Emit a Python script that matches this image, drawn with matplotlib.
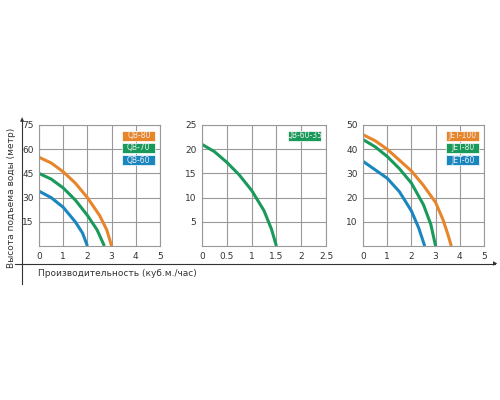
import matplotlib.pyplot as plt
from matplotlib.patches import Rectangle

# ---- data ----
qb80_x = [0, 0.5, 1, 1.5, 2, 2.5, 2.8, 3]
qb80_y = [55, 51.5, 46, 39, 30, 19, 10, 0]
qb70_x = [0, 0.5, 1, 1.5, 2, 2.4, 2.7]
qb70_y = [45, 41.5, 36, 28.5, 19, 10, 0]
qb60_x = [0, 0.5, 1, 1.5, 1.8, 2]
qb60_y = [34, 30, 24, 15, 8, 0]

qb6035_x = [0, 0.25, 0.5, 0.75, 1, 1.25, 1.4, 1.5]
qb6035_y = [21, 19.5, 17.3, 14.7, 11.5, 7.3, 3.5, 0]

jet100_x = [0, 0.5, 1, 1.5, 2, 2.5, 3, 3.3, 3.5, 3.65]
jet100_y = [46, 43.5, 40, 35.5, 31, 25, 18, 11, 5, 0]
jet80_x = [0, 0.5, 1, 1.5, 2, 2.5, 2.8, 3]
jet80_y = [44, 41, 37, 32, 26, 17, 9, 0]
jet60_x = [0, 0.5, 1, 1.5, 2, 2.3, 2.55]
jet60_y = [35, 31.5, 28, 22.5, 14.5, 7.5, 0]

ORANGE = '#e8852a'
GREEN = '#1a9a5a'
BLUE = '#1a86c0'

fig = plt.figure(figsize=(5, 4), dpi=100)
fig.patch.set_facecolor('white')

panels = [
    dict(pos=[0.078, 0.385, 0.242, 0.3025], xt=[0, 1, 2, 3, 4, 5], xl=['0', '1', '2', '3', '4', '5'],
         yt=[15, 30, 45, 60, 75], ymax=75,
         series=[('QB-80', qb80_x, qb80_y, ORANGE), ('QB-70', qb70_x, qb70_y, GREEN),
                 ('QB-60', qb60_x, qb60_y, BLUE)]),
    dict(pos=[0.404, 0.385, 0.248, 0.3025], xt=[0, 0.5, 1, 1.5, 2, 2.5], xl=['0', '0.5', '1', '1.5', '2', '2.5'],
         yt=[5, 10, 15, 20, 25], ymax=25,
         series=[('QB-60-35', qb6035_x, qb6035_y, GREEN)]),
    dict(pos=[0.726, 0.385, 0.242, 0.3025], xt=[0, 1, 2, 3, 4, 5], xl=['0', '1', '2', '3', '4', '5'],
         yt=[10, 20, 30, 40, 50], ymax=50,
         series=[('JET-100', jet100_x, jet100_y, ORANGE), ('JET-80', jet80_x, jet80_y, GREEN),
                 ('JET-60', jet60_x, jet60_y, BLUE)]),
]

for p in panels:
    ax = fig.add_axes(p['pos'])
    for name, x, y, c in p['series']:
        ax.plot(x, y, color=c, linewidth=2.2, solid_capstyle='butt')
    ax.set_xlim(p['xt'][0], p['xt'][-1])
    ax.set_ylim(0, p['ymax'])
    ax.set_xticks(p['xt'])
    ax.set_xticklabels(p['xl'])
    ax.set_yticks(p['yt'])
    ax.grid(True, color='#999999', linewidth=0.8)
    for s in ax.spines.values():
        s.set_color('#999999')
        s.set_linewidth(0.8)
    ax.tick_params(length=0, labelsize=6.5, colors='#333333', pad=4)
    for i, (name, x, y, c) in enumerate(p['series']):
        yc = 0.91 - i * 0.1
        ax.add_patch(Rectangle((0.69, yc - 0.04), 0.27, 0.08, transform=ax.transAxes,
                               facecolor=c, edgecolor='white', linewidth=0.5, zorder=5))
        ax.text(0.825, yc, name, transform=ax.transAxes, ha='center', va='center',
                fontsize=5.5, color='#eeeeee', zorder=6)

# outer axes arrows
fig.add_artist(plt.Line2D([0.03, 0.99], [0.34, 0.34], color='#333333', linewidth=0.8))
fig.add_artist(plt.Line2D([0.044, 0.044], [0.29, 0.70], color='#333333', linewidth=0.8))
fig.text(0.99, 0.34, '▶', fontsize=4, ha='center', va='center', color='#333333')
fig.text(0.044, 0.70, '▲', fontsize=4, ha='center', va='center', color='#333333')

fig.text(0.076, 0.316, 'Производительность (куб.м./час)', fontsize=6.5, color='#333333', va='center')
fig.text(0.024, 0.505, 'Высота подъема воды (метр)', fontsize=6.5, color='#333333',
         rotation=90, ha='center', va='center')

fig.savefig('out.png', dpi=100)
